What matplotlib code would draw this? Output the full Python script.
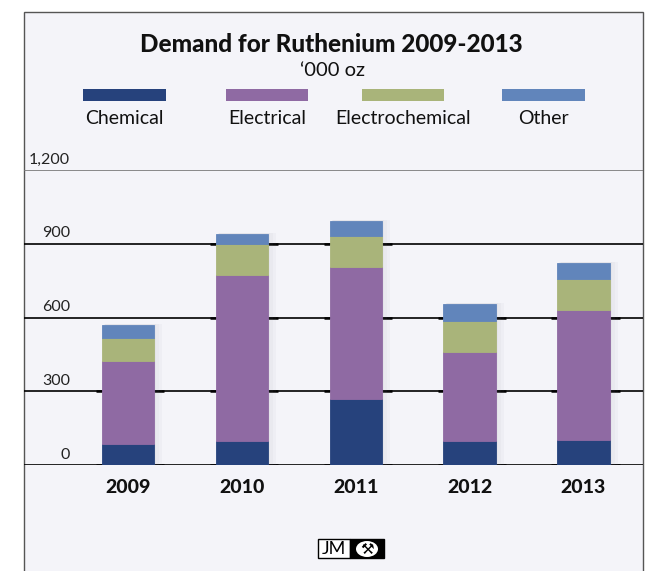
import numpy as np
import matplotlib
matplotlib.use("Agg")
import matplotlib.pyplot as plt
from matplotlib.patches import Rectangle, Ellipse

# Demand for ruthenium, '000 oz
years = ["2009", "2010", "2011", "2012", "2013"]
chemical = [86, 97, 270, 97, 101]
electrical = [336, 676, 534, 363, 530]
electrochemical = [93, 126, 129, 125, 125]
other = [55, 41, 59, 71, 66]

series_names = ["Chemical", "Electrical", "Electrochemical", "Other"]
series_colors = ["#26427c", "#8f6aa3", "#a9b47a", "#6185bb"]
y_ticks = [0, 300, 600, 900, 1200]
y_tick_labels = ["0", "300", "600", "900", "1,200"]

plt.rcParams["font.family"] = ["Lato", "DejaVu Sans"]

W, H = 662, 571
fig = plt.figure(figsize=(W / 100, H / 100), dpi=100, facecolor="white")

# panel background with border
panel = Rectangle((24 / W, -0.05), (643 - 24) / W, (H - 12) / H + 0.05,
                  transform=fig.transFigure, facecolor="#f4f4f9",
                  edgecolor="#555555", linewidth=1.0, zorder=-10)
fig.patches.append(panel)

ax = fig.add_axes([24 / W, (H - 465) / H, (643 - 24) / W, (465 - 170) / H])
ax.set_facecolor("none")
ax.set_zorder(1)
for s in ax.spines.values():
    s.set_visible(False)
ax.set_xlim(-0.914, 4.524)
ax.set_ylim(0, 1200)
ax.set_xticks([])
ax.set_yticks([])

x = np.arange(len(years))
width = 0.46
data = [chemical, electrical, electrochemical, other]
totals = np.sum(data, axis=0)

# horizontal grid lines
for v, lab in zip(y_ticks, y_tick_labels):
    col = "#777777" if v == 1200 else "black"
    ax.axhline(v, color=col, linewidth=1.2, zorder=1)
    ax.text(0.0743, v + 14, lab, transform=ax.get_yaxis_transform(),
            ha="right", va="bottom", fontsize=11.5, color="#222222",
            clip_on=False)
    if v < 1200:
        # slightly heavier stubs either side of the bars that cross the line
        xs = x[totals > v]
        ax.hlines([v] * len(xs), xs - width / 2 - 0.05, xs - width / 2,
                  color="black", linewidth=1.8, zorder=1)
        ax.hlines([v] * len(xs), xs + width / 2, xs + width / 2 + 0.09,
                  color="black", linewidth=1.8, zorder=1)

# soft shadow to the right of each bar
for k in range(3):
    ax.bar(x + 0.02 + 0.015 * k, totals + 4, width=width + 0.02 * k,
           color="#9090a0", alpha=0.05, zorder=2, linewidth=0)

bottom = np.zeros(len(years))
for vals, name, col in zip(data, series_names, series_colors):
    ax.bar(x, vals, width=width, bottom=bottom, color=col, zorder=3,
           linewidth=0.6, edgecolor=col)
    bottom += np.array(vals)

for xi, yr in zip(x, years):
    ax.text(xi, -90, yr, ha="center", va="center", fontsize=14,
            fontweight="black", color="#111111", clip_on=False)

# titles
fig.text(331 / W, 1 - 44 / H, "Demand for Ruthenium 2009-2013", ha="center",
         va="center", fontsize=17.5, fontweight="black", color="#111111")
fig.text(333 / W, 1 - 70 / H, "\u2018000 oz", ha="center", va="center",
         fontsize=14.5, color="#111111")

# legend
legend_x = [(83, 166), (226, 308), (362, 444), (502, 585)]
for (x0, x1), name, col in zip(legend_x, series_names, series_colors):
    fig.patches.append(Rectangle((x0 / W, 1 - 101 / H), (x1 - x0) / W, 12 / H,
                                 transform=fig.transFigure, facecolor=col,
                                 edgecolor="none"))
    fig.text((x0 + x1) / 2 / W, 1 - 118 / H, name, ha="center", va="center",
             fontsize=14, color="#111111")

# JM logo
fig.patches.append(Rectangle((318 / W, 1 - 558 / H), 32 / W, 19 / H,
                             transform=fig.transFigure, facecolor="white",
                             edgecolor="black", linewidth=1.0))
fig.text(334 / W, 1 - 549 / H, "JM", ha="center", va="center", fontsize=13,
         color="black")
fig.patches.append(Rectangle((350 / W, 1 - 558 / H), 34 / W, 19 / H,
                             transform=fig.transFigure, facecolor="black",
                             edgecolor="black", linewidth=1.0))
fig.patches.append(Ellipse((367 / W, 1 - 549 / H), 22 / W, 16 / H,
                           transform=fig.transFigure, facecolor="white",
                           edgecolor="none"))
fig.text(367 / W, 1 - 549 / H, "\u2692", ha="center", va="center",
         fontsize=11, color="black", family="DejaVu Sans")

fig.savefig("out.png", dpi=100, facecolor="white")
